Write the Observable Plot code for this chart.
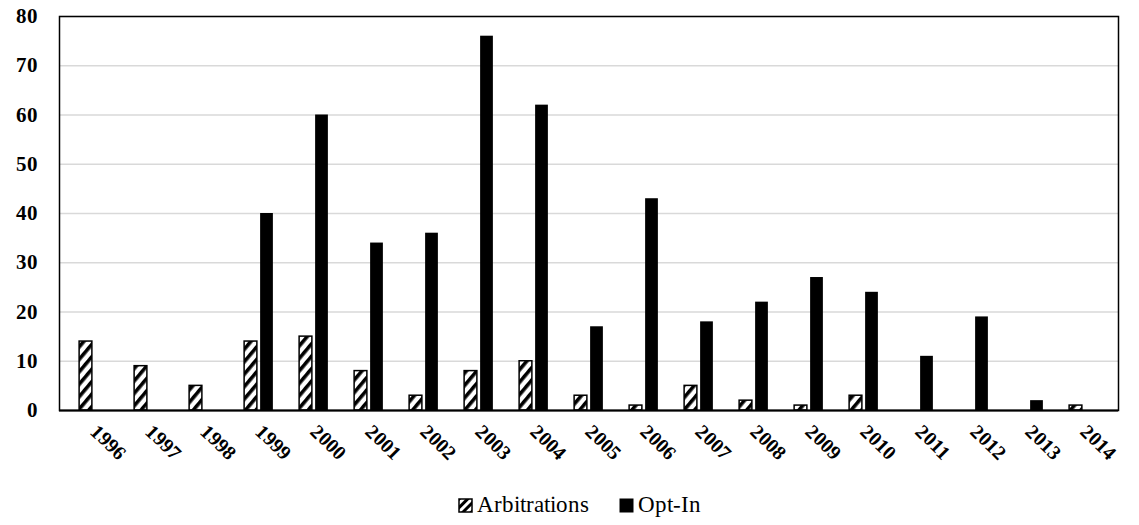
<!DOCTYPE html>
<html>
<head>
<meta charset="utf-8">
<script src="https://cdn.jsdelivr.net/npm/d3@7"></script>
<script src="https://cdn.jsdelivr.net/npm/@observablehq/plot@0.6"></script>
<style>
  @font-face { font-family: 'RefSerif'; src: local('Liberation Serif'), local('LiberationSerif'); font-weight: 400; }
  @font-face { font-family: 'RefSerif'; src: local('Liberation Serif Bold'), local('LiberationSerif-Bold'); font-weight: 700; }
  * { font-family: 'RefSerif', 'Liberation Serif', 'Times New Roman', serif !important; }
  body { margin: 0; padding: 0; background: #fff; }
  #chart { width: 1139px; height: 485px; }
  .lg { display: flex; justify-content: center; align-items: center; height: 40px; margin-left: 20px; font-size: 23px; color: #000; }
  .sw { display: inline-block; width: 15px; height: 15px; margin-right: 4px; }
</style>
</head>
<body>
<div id="chart"></div>
<div class="lg">
  <svg class="sw" width="15" height="15" viewBox="0 0 15 15"><defs><pattern id="hatchL" patternUnits="userSpaceOnUse" width="6" height="6" patternTransform="rotate(45)"><rect width="6" height="6" fill="#fff"/><rect width="3" height="6" fill="#000"/></pattern></defs><rect x="1" y="1" width="13" height="13" fill="url(#hatchL)" stroke="#000" stroke-width="1.5"/></svg>
  <span id="lg0" style="margin-right: 30px;"></span>
  <svg class="sw" width="15" height="15" viewBox="0 0 15 15"><rect x="0.5" y="0.5" width="14" height="14" fill="#000"/></svg>
  <span id="lg1"></span>
</div>
<script>
const years = ["1996","1997","1998","1999","2000","2001","2002","2003","2004","2005","2006","2007","2008","2009","2010","2011","2012","2013","2014"];
const arbitrations = [14,9,5,14,15,8,3,8,10,3,1,5,2,1,3,0,0,0,1];
const optIn = [0,0,0,40,60,34,36,76,62,17,43,18,22,27,24,11,19,2,0];
const seriesNames = ["Arbitrations", "Opt-In"];
const yTicks = [0,10,20,30,40,50,60,70,80];

const arbData = years.map((y, i) => ({year: y, value: arbitrations[i]})).filter(d => d.value > 0);
const optData = years.map((y, i) => ({year: y, value: optIn[i]})).filter(d => d.value > 0);

const FONT = "RefSerif, 'Liberation Serif', 'Times New Roman', serif";
const W = 1139, H = 485, mL = 59, mR = 21;
const step = (W - mL - mR) / years.length;
const barW = 13.5;
const inset = (step - barW) / 2;

const plot = Plot.plot({
  width: W,
  height: H,
  marginLeft: mL,
  marginRight: mR,
  marginTop: 16,
  marginBottom: 75,
  style: {fontFamily: FONT, background: "#fff"},
  x: {type: "band", domain: years, padding: 0, label: null},
  y: {domain: [0, 80], ticks: yTicks, label: null},
  marks: [
    Plot.gridY(yTicks, {stroke: "#d9d9d9", strokeOpacity: 1, strokeWidth: 1.5}),
    Plot.barY(arbData, {x: "year", y: "value", fill: "url(#hatch)", stroke: "#000", strokeWidth: 1.5, insetLeft: inset, insetRight: inset, dx: -8}),
    Plot.barY(optData, {x: "year", y: "value", fill: "#000", insetLeft: inset, insetRight: inset, dx: 8}),
    Plot.ruleY([0], {stroke: "#000", strokeWidth: 2}),
    Plot.frame({stroke: "#000", strokeWidth: 1.5}),
    Plot.axisY(yTicks, {tickSize: 0, tickPadding: 22, label: null, fontSize: 21, fontWeight: "bold"}),
    Plot.axisX(years, {tickSize: 0, tickPadding: 18, tickRotate: 45, label: null, fontSize: 20, fontWeight: "bold"})
  ]
});

const svg = d3.select(plot);
const defs = svg.insert("defs", ":first-child");
const pat = defs.append("pattern").attr("id", "hatch").attr("patternUnits", "userSpaceOnUse")
  .attr("width", 8).attr("height", 8).attr("patternTransform", "rotate(40)");
pat.append("rect").attr("width", 8).attr("height", 8).attr("fill", "#fff");
pat.append("rect").attr("x", 0).attr("y", 0).attr("width", 3.6).attr("height", 8).attr("fill", "#000");

document.getElementById("chart").appendChild(plot);
document.getElementById("lg0").textContent = seriesNames[0];
document.getElementById("lg1").textContent = seriesNames[1];
</script>
</body>
</html>
